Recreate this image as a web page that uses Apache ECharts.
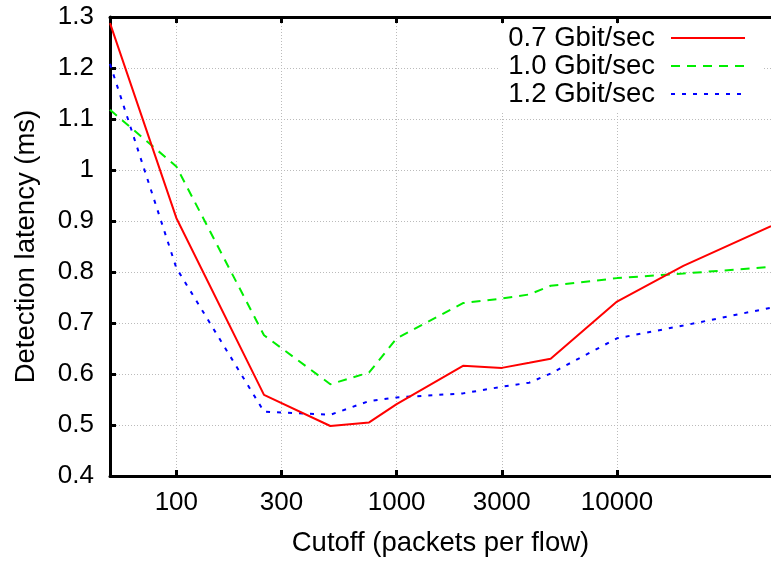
<!DOCTYPE html>
<html>
<head>
<meta charset="utf-8">
<script src="https://cdn.jsdelivr.net/npm/echarts@6/dist/echarts.min.js"></script>
<style>
  html, body { margin: 0; padding: 0; background: #fff; }
  #main { width: 771px; height: 563px; }
</style>
</head>
<body>
<div id="main"></div>
<script>
// cutoff values (packets per flow)
const cutoffs = [50, 100, 250, 500, 750, 1000, 2000, 3000, 4000, 5000, 10000, 20000, 50000];
// detection latency (ms)
const lat07 = [1.288, 0.906, 0.559, 0.498, 0.505, 0.541, 0.616, 0.612, 0.622, 0.630, 0.742, 0.812, 0.890];
const lat10 = [1.118, 1.007, 0.676, 0.580, 0.603, 0.670, 0.739, 0.748, 0.756, 0.773, 0.788, 0.797, 0.810];
const lat12 = [1.208, 0.808, 0.526, 0.520, 0.547, 0.554, 0.562, 0.575, 0.583, 0.601, 0.670, 0.695, 0.730];
const xTicks = [100, 300, 1000, 3000, 10000];
const seriesNames = ['0.7 Gbit/sec', '1.0 Gbit/sec', '1.2 Gbit/sec'];

const font = 'Liberation Sans, Arial, Helvetica, sans-serif';

function pairs(ys) {
  return cutoffs.map((c, i) => [c, ys[i]]);
}

const chart = echarts.init(document.getElementById('main'), null, {renderer: 'canvas'});

const option = {
  animation: false,
  backgroundColor: '#fff',
  grid: {
    left: 110,
    top: 17,
    bottom: 87,
    right: -8,
    containLabel: false
  },
  legend: {
    data: seriesNames,
    orient: 'vertical',
    right: 9,
    top: 24,
    align: 'right',
    itemWidth: 74,
    itemHeight: 14,
    itemGap: 0,
    padding: [0, 16, 3, 10],
    backgroundColor: '#fff',
    itemStyle: {opacity: 0, borderWidth: 0},
    textStyle: {
      fontFamily: font,
      fontSize: 27.5,
      lineHeight: 28,
      color: '#000',
      padding: [0, 11, 0, 0]
    }
  },
  xAxis: [
    {
      type: 'log',
      logBase: 10,
      min: 50,
      max: 50000,
      name: 'Cutoff (packets per flow)',
      nameLocation: 'middle',
      nameGap: 53,
      nameTextStyle: {fontFamily: font, fontSize: 27.5, color: '#000'},
      axisLine: {show: true, onZero: false, lineStyle: {color: '#000', width: 3}},
      axisTick: {show: true, inside: true, length: 6, lineStyle: {color: '#000', width: 3}, customValues: xTicks},
      axisLabel: {
        fontFamily: font, fontSize: 26, color: '#000', margin: 14, customValues: xTicks,
        formatter: (v) => String(v)
      },
      splitLine: {show: true, lineStyle: {color: '#bbb', width: 1, type: [1, 2]}},
      minorTick: {show: false},
      minorSplitLine: {show: false}
    },
    {
      type: 'log',
      logBase: 10,
      min: 50,
      max: 50000,
      position: 'top',
      axisLine: {show: true, onZero: false, lineStyle: {color: '#000', width: 3}},
      axisTick: {show: true, inside: true, length: 6, lineStyle: {color: '#000', width: 3}, customValues: xTicks},
      axisLabel: {show: false},
      splitLine: {show: false}
    }
  ],
  yAxis: {
    type: 'value',
    min: 0.4,
    max: 1.3,
    interval: 0.1,
    name: 'Detection latency (ms)',
    nameLocation: 'middle',
    nameGap: 70,
    nameTextStyle: {fontFamily: font, fontSize: 27.5, color: '#000'},
    axisLine: {show: true, lineStyle: {color: '#000', width: 3}},
    axisTick: {show: true, inside: true, length: 6, lineStyle: {color: '#000', width: 3}},
    axisLabel: {fontFamily: font, fontSize: 26, color: '#000', margin: 16},
    splitLine: {show: true, lineStyle: {color: '#bbb', width: 1, type: [1, 2]}}
  },
  series: [
    {
      name: seriesNames[0],
      type: 'line',
      data: pairs(lat07),
      symbol: 'none',
      lineStyle: {color: '#ff0000', width: 2, type: 'solid'},
      itemStyle: {color: '#ff0000'},
      z: 5
    },
    {
      name: seriesNames[1],
      type: 'line',
      data: pairs(lat10),
      symbol: 'none',
      lineStyle: {color: '#00ee00', width: 2, type: [9, 7]},
      itemStyle: {color: '#00ee00'},
      z: 4
    },
    {
      name: seriesNames[2],
      type: 'line',
      data: pairs(lat12),
      symbol: 'none',
      lineStyle: {color: '#0000ff', width: 2, type: [4, 7]},
      itemStyle: {color: '#0000ff'},
      z: 3
    }
  ]
};

chart.setOption(option);
</script>
</body>
</html>
